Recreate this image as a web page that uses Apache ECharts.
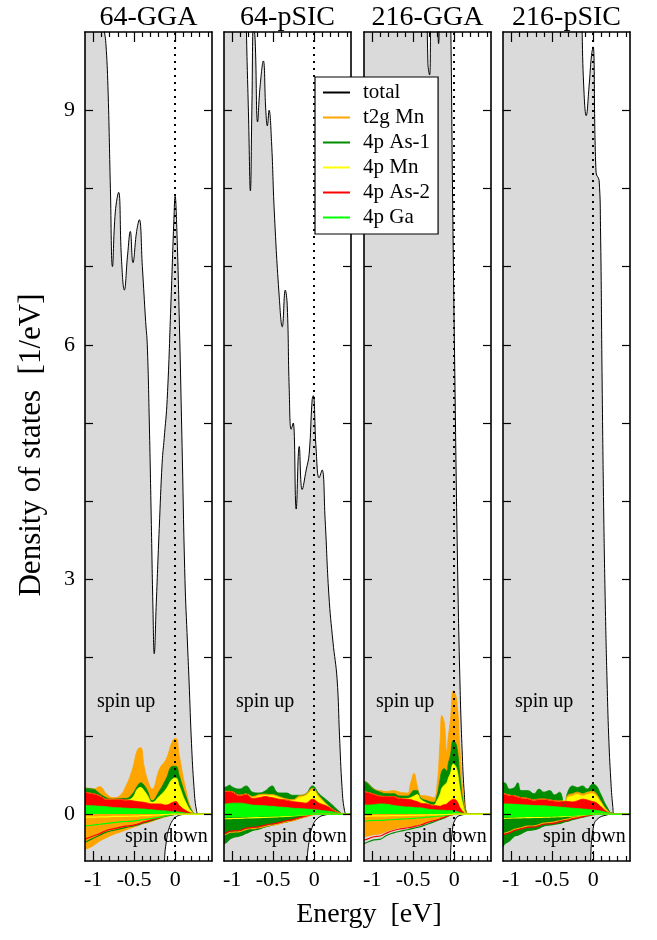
<!DOCTYPE html>
<html><head><meta charset="utf-8">
<script src="https://cdn.jsdelivr.net/npm/echarts@6/dist/echarts.min.js"></script>
<style>html,body{margin:0;padding:0;background:#fff}#c{width:657px;height:940px}</style>
</head><body><div id="c"></div>
<script>
// ---------------- DATA ----------------
const panelTitles = ['64-GGA', '64-pSIC', '216-GGA', '216-pSIC'];
const legendNames = ['total', 't2g Mn', '4p As-1', '4p Mn', '4p As-2', '4p Ga'];
const xMajorTicks = [-1, -0.5, 0];
const xMinorTicks = [-0.9, -0.8, -0.7, -0.6, -0.4, -0.3, -0.2, -0.1, 0.1, 0.2, 0.3, 0.4];
const yMajorTicks = [0, 3, 6, 9];
const yMinorTicks = [1, 2, 4, 5, 7, 8];
const fermiLevel = 0;

// ---- 64-GGA ----
const gga64_total_up = [[-1.1,13],[-0.9,12],[-0.87,10.1],[-0.845,9.85],[-0.82,9.3],[-0.79,8.0],[-0.765,7.0],[-0.73,7.7],[-0.69,7.95],[-0.655,7.1],[-0.62,6.7],[-0.58,7.15],[-0.547,7.45],[-0.515,7.05],[-0.47,7.45],[-0.437,7.6],[-0.4,7.0],[-0.36,6.3],[-0.34,6.0],[-0.316,5.05],[-0.292,3.8],[-0.27,2.6],[-0.255,2.05],[-0.23,2.7],[-0.194,3.65],[-0.158,4.5],[-0.134,4.8],[-0.097,5.3],[-0.049,6.6],[-0.015,7.6],[0,7.9],[0.02,7.5],[0.049,6.4],[0.085,4.7],[0.12,3.0],[0.15,2.2],[0.17,1.7],[0.2,0.9],[0.23,0.35],[0.26,0.05],[0.29,0],[0.45,0]];
const gga64_total_dn = [[-1.1,-2],[-0.16,-2],[-0.13,-0.6],[-0.1,-0.3],[-0.07,-0.17],[-0.03,-0.08],[0.02,-0.03],[0.1,-0.005],[0.2,0],[0.45,0]];
const gga64_E      = [-1.1,-1.0,-0.92,-0.84,-0.76,-0.68,-0.6,-0.52,-0.46,-0.42,-0.38,-0.34,-0.28,-0.19,-0.11,-0.03,0.01,0.05,0.13,0.21,0.27,0.45];
const gga64_ga_up  = [0.11,0.105,0.10,0.095,0.085,0.08,0.075,0.07,0.068,0.066,0.064,0.06,0.055,0.045,0.04,0.03,0.03,0.025,0.012,0.004,0,0];
const gga64_as2_up = [0.28,0.26,0.235,0.19,0.19,0.19,0.18,0.17,0.16,0.155,0.15,0.14,0.13,0.13,0.115,0.15,0.16,0.11,0.045,0.01,0,0];
const gga64_mn_up  = [0.28,0.26,0.235,0.19,0.19,0.19,0.18,0.21,0.32,0.34,0.30,0.24,0.15,0.23,0.32,0.45,0.46,0.36,0.15,0.02,0,0];
const gga64_as1_up = [0.33,0.32,0.26,0.21,0.19,0.20,0.20,0.26,0.36,0.40,0.37,0.30,0.17,0.30,0.45,0.61,0.61,0.49,0.23,0.03,0,0];
const gga64_t2g_up = [0.34,0.32,0.35,0.26,0.21,0.23,0.36,0.58,0.82,0.85,0.62,0.45,0.32,0.58,0.70,0.94,0.97,0.75,0.32,0.04,0,0];
const gga64_t2g_dn = [-0.45,-0.40,-0.34,-0.30,-0.26,-0.23,-0.20,-0.17,-0.15,-0.13,-0.12,-0.11,-0.09,-0.055,-0.03,-0.01,0,0,0,0,0,0];
const gga64_as1_dn = [-0.36,-0.31,-0.27,-0.23,-0.21,-0.19,-0.17,-0.155,-0.14,-0.125,-0.11,-0.10,-0.08,-0.05,-0.025,-0.008,0,0,0,0,0,0];
const gga64_as2_dn = [-0.32,-0.28,-0.25,-0.21,-0.19,-0.17,-0.155,-0.145,-0.13,-0.115,-0.10,-0.09,-0.07,-0.045,-0.02,-0.006,0,0,0,0,0,0];
const gga64_ga_dn  = [-0.15,-0.14,-0.13,-0.12,-0.11,-0.10,-0.095,-0.09,-0.08,-0.075,-0.07,-0.065,-0.055,-0.04,-0.02,-0.005,0,0,0,0,0,0];
const gga64_mn_dn  = [-0.04,-0.04,-0.035,-0.035,-0.03,-0.03,-0.03,-0.025,-0.025,-0.02,-0.02,-0.02,-0.015,-0.01,-0.005,0,0,0,0,0,0,0];

// ---- 64-pSIC ----
const psic64_total_up = [[-1.1,13],[-0.86,12],[-0.826,10.0],[-0.80,8.9],[-0.778,7.97],[-0.76,9.0],[-0.74,10.1],[-0.72,9.9],[-0.69,8.85],[-0.66,9.3],[-0.62,9.63],[-0.59,9.0],[-0.571,8.8],[-0.55,9.0],[-0.52,8.6],[-0.486,7.7],[-0.425,6.6],[-0.389,6.23],[-0.352,6.7],[-0.328,6.5],[-0.304,5.43],[-0.28,4.92],[-0.255,5.0],[-0.219,3.9],[-0.182,4.7],[-0.146,4.15],[-0.097,4.4],[-0.061,4.6],[-0.024,5.3],[-0.01,5.35],[0.024,4.67],[0.061,4.3],[0.097,4.4],[0.134,3.77],[0.18,2.8],[0.23,2.2],[0.28,1.73],[0.31,1.0],[0.34,0.35],[0.37,0.05],[0.4,0],[0.45,0]];
const psic64_total_dn = [[-1.1,-2],[-0.11,-2],[-0.085,-0.6],[-0.057,-0.32],[-0.024,-0.17],[0.036,-0.06],[0.14,-0.01],[0.25,0],[0.45,0]];
const psic64_E      = [-1.1,-1.07,-1.03,-0.99,-0.91,-0.83,-0.75,-0.67,-0.59,-0.55,-0.51,-0.47,-0.43,-0.34,-0.26,-0.18,-0.10,-0.02,0.06,0.14,0.22,0.30,0.36,0.45];
const psic64_ga_up  = [0.13,0.13,0.135,0.14,0.14,0.13,0.115,0.11,0.105,0.10,0.10,0.095,0.09,0.085,0.075,0.07,0.064,0.06,0.05,0.04,0.03,0.01,0,0];
const psic64_as2_up = [0.29,0.29,0.29,0.28,0.24,0.255,0.20,0.21,0.225,0.215,0.21,0.20,0.19,0.18,0.16,0.15,0.14,0.19,0.14,0.11,0.065,0.02,0,0];
const psic64_mn_up  = [0.29,0.29,0.29,0.28,0.24,0.255,0.21,0.23,0.24,0.235,0.235,0.225,0.21,0.18,0.17,0.21,0.235,0.30,0.21,0.13,0.065,0.02,0,0];
const psic64_t2g_up = [0.29,0.29,0.29,0.28,0.24,0.255,0.225,0.25,0.255,0.25,0.25,0.24,0.225,0.195,0.185,0.235,0.255,0.33,0.23,0.14,0.065,0.02,0,0];
const psic64_as1_up = [0.34,0.35,0.37,0.34,0.32,0.36,0.28,0.27,0.30,0.34,0.36,0.30,0.27,0.27,0.24,0.24,0.26,0.36,0.26,0.19,0.12,0.04,0,0];
const psic64_as1_dn = [-0.38,-0.36,-0.32,-0.30,-0.28,-0.245,-0.21,-0.19,-0.16,-0.15,-0.14,-0.13,-0.12,-0.10,-0.08,-0.055,-0.03,-0.005,0,0,0,0,0,0];
const psic64_t2g_dn = [-0.265,-0.255,-0.235,-0.23,-0.225,-0.195,-0.185,-0.175,-0.155,-0.145,-0.14,-0.135,-0.125,-0.10,-0.085,-0.06,-0.035,-0.01,0,0,0,0,0,0];
const psic64_as2_dn = [-0.25,-0.24,-0.22,-0.215,-0.21,-0.18,-0.17,-0.16,-0.14,-0.13,-0.125,-0.12,-0.11,-0.085,-0.07,-0.045,-0.025,-0.005,0,0,0,0,0,0];
const psic64_mn_dn  = [-0.06,-0.06,-0.058,-0.056,-0.054,-0.05,-0.048,-0.045,-0.042,-0.04,-0.038,-0.036,-0.034,-0.03,-0.024,-0.017,-0.01,-0.003,0,0,0,0,0,0];
const psic64_ga_dn  = [-0.035,-0.035,-0.035,-0.033,-0.032,-0.03,-0.03,-0.028,-0.026,-0.025,-0.024,-0.023,-0.022,-0.02,-0.017,-0.013,-0.008,-0.002,0,0,0,0,0,0];

// ---- 216-GGA ----
const gga216_total_up = [[-1.1,13],[-0.36,12],[-0.32,9.6],[-0.3,9.45],[-0.28,10.5],[-0.22,12],[-0.2,10.2],[-0.19,9.85],[-0.17,10.5],[-0.1,12],[-0.06,11],[-0.04,10],[-0.02,8],[0.01,5.5],[0.04,3.3],[0.07,1.73],[0.1,0.75],[0.125,0.25],[0.15,0.02],[0.2,0],[0.45,0]];
const gga216_total_dn = [[-1.1,-2],[-0.07,-2],[-0.045,-0.6],[-0.025,-0.25],[0.016,-0.064],[0.1,-0.01],[0.2,0],[0.45,0]];
const gga216_E      = [-1.1,-1.06,-0.98,-0.90,-0.82,-0.74,-0.66,-0.57,-0.53,-0.49,-0.45,-0.41,-0.33,-0.25,-0.21,-0.17,-0.15,-0.12,-0.09,-0.07,-0.045,-0.01,0.03,0.07,0.11,0.15,0.2,0.45];
const gga216_ga_up  = [0.12,0.115,0.12,0.13,0.125,0.11,0.10,0.09,0.09,0.085,0.08,0.08,0.064,0.055,0.052,0.05,0.05,0.048,0.045,0.045,0.044,0.043,0.035,0.02,0.01,0,0,0];
const gga216_as2_up = [0.29,0.28,0.255,0.23,0.225,0.225,0.20,0.19,0.185,0.17,0.16,0.14,0.13,0.11,0.105,0.10,0.11,0.12,0.13,0.15,0.17,0.19,0.17,0.085,0.03,0,0,0];
const gga216_mn_up  = [0.29,0.28,0.255,0.23,0.225,0.225,0.20,0.20,0.21,0.23,0.25,0.19,0.14,0.115,0.17,0.26,0.33,0.37,0.40,0.46,0.52,0.64,0.58,0.32,0.11,0.01,0,0];
const gga216_as1_up = [0.42,0.40,0.32,0.28,0.26,0.26,0.23,0.23,0.26,0.30,0.30,0.21,0.17,0.15,0.23,0.45,0.55,0.58,0.55,0.65,0.75,0.94,0.87,0.49,0.15,0.01,0,0];
const gga216_t2g_up = [0.42,0.40,0.32,0.30,0.29,0.30,0.28,0.27,0.40,0.52,0.36,0.24,0.23,0.21,0.35,0.95,1.26,1.17,0.80,1.0,1.2,1.58,1.47,0.85,0.27,0.03,0,0];
const gga216_as1_dn = [-0.38,-0.36,-0.33,-0.32,-0.27,-0.24,-0.22,-0.20,-0.19,-0.18,-0.17,-0.16,-0.13,-0.10,-0.085,-0.07,-0.06,-0.05,-0.035,-0.025,-0.015,-0.004,0,0,0,0,0,0];
const gga216_t2g_dn = [-0.29,-0.28,-0.26,-0.25,-0.215,-0.19,-0.17,-0.16,-0.155,-0.145,-0.135,-0.125,-0.10,-0.078,-0.068,-0.055,-0.046,-0.036,-0.027,-0.018,-0.01,-0.003,0,0,0,0,0,0];
const gga216_as2_dn = [-0.33,-0.32,-0.29,-0.28,-0.24,-0.21,-0.19,-0.175,-0.17,-0.16,-0.15,-0.14,-0.11,-0.085,-0.075,-0.06,-0.05,-0.04,-0.03,-0.02,-0.012,-0.003,0,0,0,0,0,0];
const gga216_ga_dn  = [-0.09,-0.085,-0.08,-0.08,-0.075,-0.07,-0.065,-0.06,-0.058,-0.055,-0.05,-0.048,-0.04,-0.032,-0.028,-0.025,-0.022,-0.018,-0.014,-0.01,-0.006,-0.002,0,0,0,0,0,0];
const gga216_mn_dn  = [-0.025,-0.025,-0.024,-0.023,-0.022,-0.02,-0.019,-0.018,-0.017,-0.016,-0.015,-0.014,-0.012,-0.01,-0.009,-0.008,-0.007,-0.006,-0.005,-0.004,-0.003,-0.001,0,0,0,0,0,0];

// ---- 216-pSIC ----
const psic216_total_up = [[-1.1,13],[-0.16,12],[-0.134,10.0],[-0.11,9.2],[-0.085,8.93],[-0.05,9.3],[-0.02,9.7],[0,9.81],[0.036,8.2],[0.073,8.1],[0.09,7.5],[0.11,5.5],[0.13,3.8],[0.15,2.6],[0.17,1.7],[0.19,1.0],[0.215,0.45],[0.24,0.1],[0.26,0],[0.45,0]];
const psic216_total_dn = [[-1.1,-2],[-0.05,-2],[-0.03,-0.6],[0,-0.19],[0.045,-0.07],[0.17,-0.01],[0.25,0],[0.45,0]];
const psic216_E      = [-1.1,-1.08,-1.02,-0.96,-0.92,-0.88,-0.80,-0.72,-0.66,-0.60,-0.53,-0.47,-0.41,-0.35,-0.31,-0.25,-0.19,-0.13,-0.07,-0.01,0.03,0.09,0.17,0.24,0.45];
const psic216_ga_up  = [0.13,0.13,0.128,0.125,0.123,0.12,0.115,0.11,0.108,0.105,0.10,0.095,0.09,0.085,0.08,0.075,0.07,0.064,0.06,0.055,0.05,0.04,0.02,0.005,0];
const psic216_as2_up = [0.27,0.26,0.24,0.235,0.22,0.21,0.20,0.18,0.19,0.19,0.18,0.17,0.165,0.16,0.16,0.155,0.17,0.19,0.18,0.16,0.15,0.10,0.03,0.005,0];
const psic216_mn_up  = [0.27,0.26,0.24,0.235,0.22,0.21,0.20,0.18,0.19,0.19,0.18,0.17,0.165,0.17,0.21,0.23,0.25,0.23,0.25,0.26,0.24,0.15,0.04,0.005,0];
const psic216_t2g_up = [0.27,0.26,0.24,0.235,0.22,0.21,0.20,0.18,0.19,0.19,0.18,0.17,0.165,0.17,0.24,0.26,0.28,0.26,0.28,0.29,0.27,0.17,0.05,0.005,0];
const psic216_as1_up = [0.40,0.40,0.32,0.34,0.40,0.30,0.30,0.26,0.32,0.28,0.30,0.245,0.28,0.11,0.28,0.36,0.34,0.36,0.32,0.38,0.37,0.26,0.09,0.01,0];
const psic216_as1_dn = [-0.42,-0.38,-0.34,-0.28,-0.27,-0.25,-0.21,-0.20,-0.18,-0.15,-0.14,-0.13,-0.12,-0.10,-0.09,-0.07,-0.055,-0.04,-0.025,-0.01,-0.003,0,0,0,0];
const psic216_t2g_dn = [-0.255,-0.245,-0.225,-0.195,-0.185,-0.175,-0.155,-0.15,-0.135,-0.115,-0.11,-0.10,-0.085,-0.07,-0.065,-0.045,-0.035,-0.022,-0.01,-0.003,0,0,0,0,0];
const psic216_as2_dn = [-0.27,-0.26,-0.24,-0.21,-0.20,-0.19,-0.17,-0.165,-0.15,-0.13,-0.125,-0.115,-0.10,-0.085,-0.08,-0.06,-0.05,-0.035,-0.02,-0.008,0,0,0,0,0];
const psic216_mn_dn  = [-0.055,-0.055,-0.052,-0.05,-0.049,-0.048,-0.046,-0.044,-0.042,-0.04,-0.038,-0.036,-0.033,-0.03,-0.028,-0.024,-0.019,-0.014,-0.008,-0.003,0,0,0,0,0];
const psic216_ga_dn  = [-0.035,-0.035,-0.034,-0.033,-0.032,-0.031,-0.03,-0.028,-0.027,-0.026,-0.025,-0.024,-0.022,-0.02,-0.019,-0.016,-0.013,-0.01,-0.006,-0.002,0,0,0,0,0];

// ---------------- STYLE / LAYOUT ----------------
const FONT = '"Liberation Serif", "Times New Roman", serif';
const LAYER_NAME = {t2g: 't2g Mn', as1: '4p As-1', mn: '4p Mn', as2: '4p As-2', ga: '4p Ga'};
const COLOR = {t2g: '#ffa500', as1: '#008c00', mn: '#ffff00', as2: '#ff0000', ga: '#00ff00', total: '#000000'};
const GRAY = '#dadada';
const GRID_LEFT = [85, 224, 364, 503];
const GRID_TOP = 32, GRID_W = 127, GRID_H = 829;
const X_MIN = -1.1, X_MAX = 0.45, Y_MIN = -0.6, Y_MAX = 10;

const panels = [
  {E: gga64_E, totUp: gga64_total_up, totDn: gga64_total_dn,
   up: {t2g: gga64_t2g_up, as1: gga64_as1_up, mn: gga64_mn_up, as2: gga64_as2_up, ga: gga64_ga_up},
   dn: {t2g: gga64_t2g_dn, as1: gga64_as1_dn, mn: gga64_mn_dn, as2: gga64_as2_dn, ga: gga64_ga_dn},
   upOrder: ['t2g', 'as1', 'mn', 'as2', 'ga'],
   dnStyle: [['t2g', COLOR.t2g], ['as1', null], ['as2', null], ['ga', null], ['mn', null]]},
  {E: psic64_E, totUp: psic64_total_up, totDn: psic64_total_dn,
   up: {t2g: psic64_t2g_up, as1: psic64_as1_up, mn: psic64_mn_up, as2: psic64_as2_up, ga: psic64_ga_up},
   dn: {t2g: psic64_t2g_dn, as1: psic64_as1_dn, mn: psic64_mn_dn, as2: psic64_as2_dn, ga: psic64_ga_dn},
   upOrder: ['as1', 't2g', 'mn', 'as2', 'ga'],
   dnStyle: [['as1', COLOR.as1], ['t2g', null], ['as2', null], ['mn', null], ['ga', COLOR.ga]]},
  {E: gga216_E, totUp: gga216_total_up, totDn: gga216_total_dn,
   up: {t2g: gga216_t2g_up, as1: gga216_as1_up, mn: gga216_mn_up, as2: gga216_as2_up, ga: gga216_ga_up},
   dn: {t2g: gga216_t2g_dn, as1: gga216_as1_dn, mn: gga216_mn_dn, as2: gga216_as2_dn, ga: gga216_ga_dn},
   upOrder: ['t2g', 'as1', 'mn', 'as2', 'ga'],
   dnStyle: [['as1', null], ['t2g', COLOR.t2g], ['as2', null], ['ga', null], ['mn', null]]},
  {E: psic216_E, totUp: psic216_total_up, totDn: psic216_total_dn,
   up: {t2g: psic216_t2g_up, as1: psic216_as1_up, mn: psic216_mn_up, as2: psic216_as2_up, ga: psic216_ga_up},
   dn: {t2g: psic216_t2g_dn, as1: psic216_as1_dn, mn: psic216_mn_dn, as2: psic216_as2_dn, ga: psic216_ga_dn},
   upOrder: ['as1', 't2g', 'mn', 'as2', 'ga'],
   dnStyle: [['as1', COLOR.as1], ['t2g', null], ['as2', null], ['mn', null], ['ga', COLOR.ga]]}
];

function pairs(E, v) { return E.map((e, i) => [e, v[i]]); }
function lineSeries(name, data, lineColor, lw, fill, xi, yi) {
  const s = {type: 'line', name, data, xAxisIndex: xi, yAxisIndex: yi, symbol: 'none', showSymbol: false,
    smooth: 0.45, silent: true, animation: false, clip: true,
    lineStyle: {color: lineColor, width: lw}, itemStyle: {color: lineColor}};
  if (fill) s.areaStyle = {color: fill, opacity: 1};
  return s;
}

const grids = [], xAxes = [], yAxes = [], series = [], graphics = [];
const tickLine = {color: '#000', width: 1.2};
const axLine = {show: true, onZero: false, lineStyle: {color: '#000', width: 1.6}};
const noLine = {show: false, onZero: false};

panels.forEach((p, i) => {
  grids.push({left: GRID_LEFT[i], top: GRID_TOP, width: GRID_W, height: GRID_H});
  const xb = {gridIndex: i, type: 'value', min: X_MIN, max: X_MAX, splitLine: {show: false}, z: 5};
  xAxes.push(Object.assign({}, xb, {position: 'bottom', axisLine: axLine,
    axisTick: {inside: true, length: 10, customValues: xMajorTicks, lineStyle: tickLine},
    axisLabel: {customValues: xMajorTicks, formatter: v => String(v), fontFamily: FONT, fontSize: 22, color: '#000', margin: 8}}));
  xAxes.push(Object.assign({}, xb, {position: 'bottom', axisLine: noLine,
    axisTick: {inside: true, length: 5, customValues: xMinorTicks, lineStyle: tickLine}, axisLabel: {show: false}}));
  xAxes.push(Object.assign({}, xb, {position: 'top', axisLine: axLine,
    axisTick: {inside: true, length: 10, customValues: xMajorTicks, lineStyle: tickLine}, axisLabel: {show: false}}));
  xAxes.push(Object.assign({}, xb, {position: 'top', axisLine: noLine,
    axisTick: {inside: true, length: 5, customValues: xMinorTicks, lineStyle: tickLine}, axisLabel: {show: false}}));
  const yb = {gridIndex: i, type: 'value', min: Y_MIN, max: Y_MAX, splitLine: {show: false}, z: 5};
  yAxes.push(Object.assign({}, yb, {position: 'left', axisLine: axLine,
    axisTick: {inside: true, length: 8, customValues: yMajorTicks, lineStyle: tickLine},
    axisLabel: {show: i === 0, customValues: yMajorTicks, formatter: v => String(v), fontFamily: FONT, fontSize: 22, color: '#000', margin: 10}}));
  yAxes.push(Object.assign({}, yb, {position: 'left', axisLine: noLine,
    axisTick: {inside: true, length: 8, customValues: yMinorTicks, lineStyle: tickLine}, axisLabel: {show: false}}));
  yAxes.push(Object.assign({}, yb, {position: 'right', axisLine: axLine,
    axisTick: {inside: true, length: 8, customValues: yMajorTicks, lineStyle: tickLine}, axisLabel: {show: false}}));
  yAxes.push(Object.assign({}, yb, {position: 'right', axisLine: noLine,
    axisTick: {inside: true, length: 8, customValues: yMinorTicks, lineStyle: tickLine}, axisLabel: {show: false}}));

  const xi = 4 * i, yi = 4 * i;
  series.push(lineSeries('total', p.totUp, '#000', 1, GRAY, xi, yi));
  series.push(lineSeries('total', p.totDn, '#000', 1, GRAY, xi, yi));
  p.upOrder.forEach(k => {
    series.push(lineSeries(LAYER_NAME[k], pairs(p.E, p.up[k]), COLOR[k], 0.8, COLOR[k], xi, yi));
  });
  p.dnStyle.forEach(([k, fill]) => {
    series.push(lineSeries(LAYER_NAME[k], pairs(p.E, p.dn[k]), COLOR[k], 1.2, fill, xi, yi));
  });
  series[series.length - 1].markLine = {silent: true, symbol: 'none', animation: false,
    label: {show: false}, lineStyle: {type: [2, 5], color: '#000', width: 2},
    data: [{xAxis: fermiLevel}]};

  const cx = GRID_LEFT[i] + GRID_W / 2;
  graphics.push({type: 'text', x: cx, y: 18, z: 100,
    style: {text: panelTitles[i], font: '28px ' + FONT, fill: '#000', align: 'center', verticalAlign: 'middle', textAlign: 'center', textVerticalAlign: 'middle'}});
  graphics.push({type: 'text', x: GRID_LEFT[i] + 12, y: 702, z: 100,
    style: {text: 'spin up', font: '20px ' + FONT, fill: '#000', align: 'left', verticalAlign: 'middle', textAlign: 'left', textVerticalAlign: 'middle'}});
  graphics.push({type: 'text', x: GRID_LEFT[i] + 40, y: 837, z: 100,
    style: {text: 'spin down', font: '20px ' + FONT, fill: '#000', align: 'left', verticalAlign: 'middle', textAlign: 'left', textVerticalAlign: 'middle'}});
});

graphics.push({type: 'text', x: 369, y: 915, z: 100,
  style: {text: 'Energy  [eV]', font: '28px ' + FONT, fill: '#000', align: 'center', verticalAlign: 'middle', textAlign: 'center', textVerticalAlign: 'middle'}});
graphics.push({type: 'text', x: 32, y: 445, rotation: Math.PI / 2, z: 100,
  style: {text: 'Density of states  [1/eV]', font: '31px ' + FONT, fill: '#000', align: 'center', verticalAlign: 'middle', textAlign: 'center', textVerticalAlign: 'middle'}});

const legendColors = [COLOR.total, COLOR.t2g, COLOR.as1, COLOR.mn, COLOR.as2, COLOR.ga];

const chart = echarts.init(document.getElementById('c'), null, {renderer: 'canvas'});
chart.setOption({
  animation: false,
  backgroundColor: '#fff',
  grid: grids, xAxis: xAxes, yAxis: yAxes, series,
  legend: {
    show: true, orient: 'vertical', left: 315, top: 77, z: 20,
    padding: [5, 8, 6, 8], itemGap: 4, itemWidth: 27, itemHeight: 2,
    backgroundColor: '#fff', borderColor: '#000', borderWidth: 1.2, borderRadius: 0,
    selectedMode: false,
    textStyle: {fontFamily: FONT, fontSize: 21, color: '#000', padding: [0, 0, 0, 8]},
    data: legendNames.map((n, i) => ({name: n, icon: 'rect', itemStyle: {color: legendColors[i], borderWidth: 0}}))
  },
  graphic: graphics
});
</script></body></html>
